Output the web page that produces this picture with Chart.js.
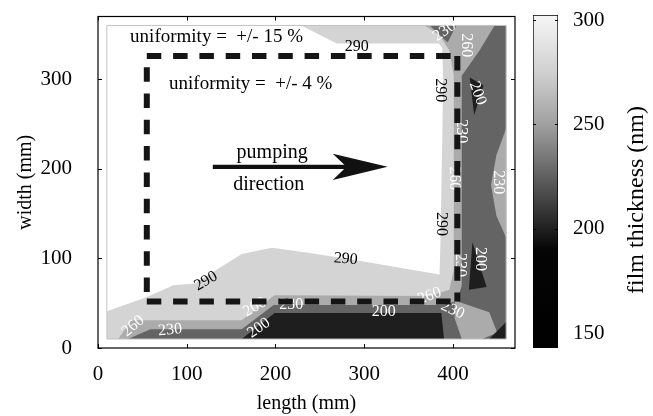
<!DOCTYPE html>
<html>
<head>
<meta charset="utf-8">
<script src="https://cdn.jsdelivr.net/npm/chart.js@4.4.1/dist/chart.umd.min.js"></script>
<style>
  html, body { margin: 0; padding: 0; background: #fff; }
  #wrap { position: relative; width: 653px; height: 416px; }
  #main { position: absolute; left: 0; top: 0; width: 653px; height: 416px; }
  #bar { position: absolute; left: 520px; top: 0; width: 133px; height: 416px; }
</style>
</head>
<body>
<div id="wrap">
  <div id="main"><canvas id="contourChart"></canvas></div>
  <div id="bar"><canvas id="colorbarChart"></canvas></div>
</div>
<script>
// axes, mm
const xTicks = [0, 100, 200, 300, 400];
const yTicks = [0, 100, 200, 300];
const xRange = [0, 470];
const yRange = [0, 370];

// measured area of the substrate, mm
const domainX = [10, 460];
const domainY = [10, 360];

// colour bar, nm
const colorbarTicks = [150, 200, 250, 300];
const colorbarRange = [143, 302.4];

// filled contour regions as [length, width] in mm
const above290 = [[10,360],[229,360],[269,340],[384,340],[388,335],[389,300],[388,232],[386,120],[385,82],
  [291,98],[233,107],[196,112],[162,105],[109,72],[85,70],[53,56],[10,41]];
const below260 = [[22.7,10],[38,31],[162,31],[199,59],[374,58],[396,65],[401,87],[401,304],[396,332],
  [385,349],[368,360],[460,360],[460,10]];
const below230 = [[34,10],[59,21],[162,21],[198,48],[390,48],[405,53],[410,70],[410,304],[430,332],
  [447,360],[460,360],[460,10]];
const topPatch230 = [[374,360],[404,360],[394,341]];
const rightLens260 = [[460,245],[449,215],[443,182],[449,148],[460,123]];
const cornerIsland260 = [[402,53],[441,40],[450,17],[433,10],[410,10],[402,33]];
const bottom200 = [[162,10],[199,39],[387,39],[390,10]];
const upperWedge200 = [[419,302],[434.5,293],[424,260]];
const lowerWedge200 = [[422,118],[438,68],[418,65]];
const corner200 = [[441,10],[460,29],[460,10]];

// contour labels: level, length, width (mm), angle (deg)
const contourLabels = [
  [290, 291.6, 335.7, 0], [230, 390.5, 353.5, -35], [260, 415.3, 337.9, 90],
  [290, 386.1, 287.7, 90], [200, 427.7, 284.2, 70], [230, 409.7, 241.8, 90],
  [260, 401.8, 189.6, 90], [290, 387.2, 138.3, 90], [230, 451.3, 185.1, 90],
  [230, 408.6, 92.6, 90], [200, 431, 99.3, 90], [260, 373.7, 58, -20],
  [230, 399.6, 42.4, 25], [200, 322, 40.1, 0], [290, 279.2, 99.3, 5],
  [290, 121.7, 74.7, -30], [200, 176.8, 45.7, -30], [230, 217.7, 48, 0],
  [230, 81.2, 20.1, -5], [260, 39.6, 24.5, -40], [200, 181.3, 22.3, -35]
];

// uniformity frame and pumping arrow, mm
const dashRectX = [55, 405];
const dashRectY = [52, 326];
const arrowX = [129.4, 281];
const arrowY = 202.2;
const arrowHead = [[326.4,202.2],[264.6,216.9],[280,202.2],[264.6,187.4]];

const notes = [
  ['uniformity =  +/- 15 %', 36.2, 341.6, 19],
  ['uniformity =  +/- 4 %', 80.1, 289.6, 19],
  ['pumping', 156.2, 211.6, 20],
  ['direction', 152.4, 176.2, 20]
];

const SERIF = '"Liberation Serif", "Times New Roman", serif';
const bandFill = { 150: '#1e1e1e', 200: '#646464', 230: '#ababab', 260: '#d4d4d4', 290: '#ffffff' };
const grayStops = [[143, 0], [190, 5], [200, 32], [225, 96], [250, 160], [275, 208], [302.4, 246]];

Chart.defaults.color = '#000';
Chart.defaults.font.family = SERIF;

function polyPath(ctx, xs, ys, pts) {
  ctx.beginPath();
  pts.forEach(([x, y], i) => {
    const px = xs.getPixelForValue(x), py = ys.getPixelForValue(y);
    if (i) ctx.lineTo(px, py); else ctx.moveTo(px, py);
  });
  ctx.closePath();
}

function noEdgePadding(s) {
  s.paddingTop = 0;
  s.paddingBottom = 0;
  s.paddingLeft = 0;
  s.paddingRight = 0;
}

const contourPlugin = {
  id: 'contours',
  beforeDatasetsDraw(chart) {
    const { ctx, scales: { x, y } } = chart;
    const domain = [[domainX[0], domainY[0]], [domainX[1], domainY[0]], [domainX[1], domainY[1]], [domainX[0], domainY[1]]];
    const layers = [
      [domain, 260], [above290, 290], [below260, 230], [below230, 200], [topPatch230, 200],
      [rightLens260, 230], [cornerIsland260, 230],
      [bottom200, 150], [upperWedge200, 150], [lowerWedge200, 150], [corner200, 150]
    ];
    ctx.save();
    layers.forEach(([pts, band]) => {
      polyPath(ctx, x, y, pts);
      ctx.fillStyle = bandFill[band];
      ctx.fill();
    });
    polyPath(ctx, x, y, domain);
    ctx.strokeStyle = '#c4c4c4';
    ctx.lineWidth = 1;
    ctx.stroke();

    ctx.font = '16px ' + SERIF;
    ctx.textAlign = 'center';
    ctx.textBaseline = 'middle';
    contourLabels.forEach(([level, lx, ly, angle]) => {
      ctx.save();
      ctx.translate(x.getPixelForValue(lx), y.getPixelForValue(ly));
      ctx.rotate(angle * Math.PI / 180);
      ctx.fillStyle = level === 290 ? '#000' : '#fff';
      ctx.fillText(String(level), 0, 0);
      ctx.restore();
    });

    ctx.textAlign = 'left';
    ctx.textBaseline = 'alphabetic';
    ctx.fillStyle = '#000';
    notes.forEach(([text, nx, ny, size]) => {
      ctx.font = size + 'px ' + SERIF;
      ctx.fillText(text, x.getPixelForValue(nx), y.getPixelForValue(ny));
    });
    ctx.restore();
  },
  afterDatasetsDraw(chart) {
    const { ctx, chartArea: a, scales: { x, y } } = chart;
    ctx.save();
    polyPath(ctx, x, y, arrowHead);
    ctx.fillStyle = '#111';
    ctx.fill();

    // box and inward ticks
    ctx.strokeStyle = '#000';
    ctx.lineWidth = 1.2;
    ctx.strokeRect(a.left, a.top, a.right - a.left, a.bottom - a.top);
    ctx.beginPath();
    xTicks.forEach(v => {
      const px = Math.round(x.getPixelForValue(v)) + 0.5;
      ctx.moveTo(px, a.bottom); ctx.lineTo(px, a.bottom - 4);
      ctx.moveTo(px, a.top); ctx.lineTo(px, a.top + 4);
    });
    yTicks.forEach(v => {
      const py = Math.round(y.getPixelForValue(v)) + 0.5;
      ctx.moveTo(a.left, py); ctx.lineTo(a.left + 4, py);
      ctx.moveTo(a.right, py); ctx.lineTo(a.right - 4, py);
    });
    ctx.lineWidth = 1;
    ctx.stroke();
    ctx.restore();
  }
};

const dashStyle = {
  showLine: true, pointRadius: 0, borderColor: '#151515', borderWidth: 6,
  borderDash: [14.5, 11.8], borderCapStyle: 'butt', spanGaps: false, fill: false
};

new Chart(document.getElementById('contourChart'), {
  type: 'scatter',
  data: {
    datasets: [
      { ...dashStyle, data: [
        { x: dashRectX[0], y: dashRectY[0] }, { x: dashRectX[1], y: dashRectY[0] },
        { x: dashRectX[1], y: null },
        { x: dashRectX[0], y: dashRectY[1] }, { x: dashRectX[1], y: dashRectY[1] },
        { x: dashRectX[1], y: null },
        { x: dashRectX[1], y: dashRectY[1] }, { x: dashRectX[1], y: dashRectY[0] }
      ] },
      { ...dashStyle, borderDashOffset: 15, data: [
        { x: dashRectX[0], y: dashRectY[1] }, { x: dashRectX[0], y: dashRectY[0] }
      ] },
      { showLine: true, pointRadius: 0, borderColor: '#111', borderWidth: 4.3, borderCapStyle: 'butt',
        data: [{ x: arrowX[0], y: arrowY }, { x: arrowX[1], y: arrowY }] }
    ]
  },
  options: {
    responsive: true,
    maintainAspectRatio: false,
    animation: false,
    layout: { padding: { top: 16.5, right: 138, left: 0, bottom: 0 } },
    plugins: { legend: { display: false }, tooltip: { enabled: false } },
    scales: {
      x: {
        type: 'linear', min: xRange[0], max: xRange[1],
        afterBuildTicks: s => { s.ticks = xTicks.map(v => ({ value: v })); },
        afterFit: s => { s.height = 68; noEdgePadding(s); },
        grid: { display: false }, border: { display: false },
        ticks: { padding: 6, maxRotation: 0, font: { size: 21 } },
        title: { display: true, text: 'length (mm)', font: { size: 20 }, padding: { top: 0, bottom: 0 } }
      },
      y: {
        type: 'linear', min: yRange[0], max: yRange[1],
        afterBuildTicks: s => { s.ticks = yTicks.map(v => ({ value: v })); },
        afterFit: s => { s.width = 98; noEdgePadding(s); },
        grid: { display: false }, border: { display: false },
        ticks: { padding: 18, font: { size: 21 } },
        title: { display: true, text: 'width (mm)', font: { size: 20 }, padding: { top: 14, bottom: 0 } }
      }
    }
  },
  plugins: [contourPlugin]
});

const colorbarPlugin = {
  id: 'colorbarFrame',
  afterDatasetsDraw(chart) {
    const { ctx, chartArea: a, scales: { y } } = chart;
    ctx.save();
    ctx.strokeStyle = '#000';
    ctx.lineWidth = 1;
    ctx.beginPath();
    colorbarTicks.forEach(v => {
      const py = Math.round(y.getPixelForValue(v)) + 0.5;
      ctx.moveTo(a.left, py); ctx.lineTo(a.left + 3, py);
      ctx.moveTo(a.right, py); ctx.lineTo(a.right - 3, py);
    });
    ctx.stroke();
    ctx.font = '24px ' + SERIF;
    ctx.fillStyle = '#000';
    ctx.textAlign = 'center';
    ctx.textBaseline = 'middle';
    ctx.translate(117, 200);
    ctx.rotate(-Math.PI / 2);
    ctx.fillText('film thickness (nm)', 0, 0);
    ctx.restore();
  }
};

new Chart(document.getElementById('colorbarChart'), {
  type: 'bar',
  data: {
    labels: ['thickness'],
    datasets: [{
      data: [[colorbarRange[0], colorbarRange[1]]],
      backgroundColor: c => {
        const { chart } = c;
        const ys = chart.scales.y;
        if (!chart.chartArea || !ys) return '#888';
        const y0 = ys.getPixelForValue(colorbarRange[0]);
        const y1 = ys.getPixelForValue(colorbarRange[1]);
        const g = chart.ctx.createLinearGradient(0, y0, 0, y1);
        grayStops.forEach(([v, gray]) => {
          const t = (v - colorbarRange[0]) / (colorbarRange[1] - colorbarRange[0]);
          g.addColorStop(Math.min(1, Math.max(0, t)), `rgb(${gray},${gray},${gray})`);
        });
        return g;
      },
      borderColor: '#000',
      borderWidth: 1,
      borderSkipped: false,
      barPercentage: 1,
      categoryPercentage: 1
    }]
  },
  options: {
    responsive: true,
    maintainAspectRatio: false,
    animation: false,
    layout: { padding: { left: 13, top: 15, bottom: 68, right: 0 } },
    plugins: { legend: { display: false }, tooltip: { enabled: false } },
    scales: {
      x: { display: false },
      y: {
        position: 'right', min: colorbarRange[0], max: colorbarRange[1],
        afterBuildTicks: s => { s.ticks = colorbarTicks.map(v => ({ value: v })); },
        afterFit: s => { s.width = 95; noEdgePadding(s); },
        grid: { display: false }, border: { display: false },
        ticks: { padding: 7, font: { size: 21 } }
      }
    }
  },
  plugins: [colorbarPlugin]
});
</script>
</body>
</html>
